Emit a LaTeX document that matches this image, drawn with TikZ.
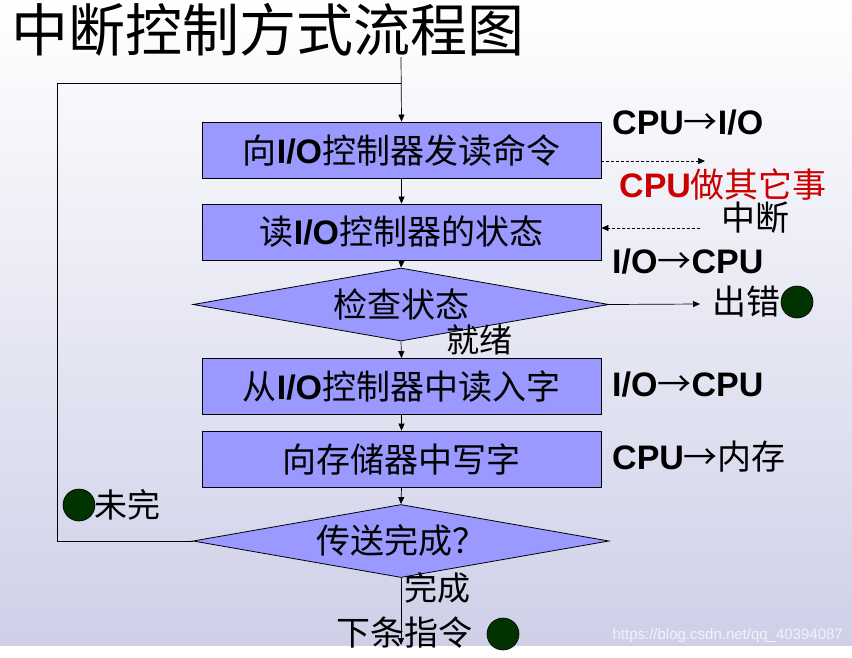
\documentclass[tikz,border=0pt]{standalone}
\usepackage{fontspec}
\setmainfont{Noto Sans CJK SC}
\newfontfamily\lat{Liberation Sans}
\usetikzlibrary{shapes.geometric,arrows.meta}
\definecolor{boxfill}{RGB}{153,153,255}
\definecolor{bgbot}{RGB}{207,208,232}
\definecolor{dotgreen}{RGB}{0,51,0}
\definecolor{redtxt}{RGB}{204,0,0}
\newcommand\io{{\lat\bfseries I/O}}
\newcommand\cpu{{\lat\bfseries CPU}}
\newcommand\arr{{\symbol{"2192}}}
\begin{document}
\begin{tikzpicture}[x=1pt,y=-1pt,
  box/.style={draw=black, line width=0.8pt, fill=boxfill, minimum width=399pt, minimum height=56pt, inner sep=0pt, font=\fontsize{34}{36}\selectfont},
  dia/.style={draw=black, line width=0.8pt, fill=boxfill, diamond, aspect=5.7, minimum width=416pt, minimum height=73pt, inner sep=0pt, font=\fontsize{34}{36}\selectfont},
  lbl/.style={inner sep=0pt, font=\fontsize{33}{35}\selectfont},
  rlbl/.style={inner sep=0pt, anchor=west, font=\fontsize{34}{36}\selectfont},
  dot/.style={circle, draw=black, line width=0.6pt, fill=dotgreen, minimum size=32pt, inner sep=0pt},
  con/.style={line width=0.7pt, -{Triangle[length=7pt,width=6pt]}},
  dcon/.style={line width=0.7pt, dashed, dash pattern=on 3pt off 2pt, -{Triangle[length=7pt,width=6pt]}}
]
\useasboundingbox (0,0) rectangle (852,657);
\fill[white] (0,0) rectangle (852,657);
\shade[top color=white, bottom color=bgbot] (0,0) rectangle (852,645);

% title
\node[inner sep=0pt, anchor=west, font=\fontsize{57}{59}\selectfont] (title) at (11,30) {中断控制方式流程图};

% boxes
\node[box] (b1) at (401.5,150) {向\io 控制器发读命令};
\node[box] (b2) at (401.5,232) {读\io 控制器的状态};
\node[dia] (d1) at (401,304.5) {检查状态};
\node[box] (b3) at (401.5,386.5) {从\io 控制器中读入字};
\node[box] (b4) at (401.5,459) {向存储器中写字};
\node[dia] (d2) at (401,541) {传送完成？};

% coordinates
\coordinate (top) at (401,57);
\coordinate (join) at (401,83);
\coordinate (lc1) at (57,83);
\coordinate (lc2) at (57,541);
\coordinate (errend) at (700,304);
\coordinate (endp) at (401,645);
\coordinate (ds1) at (705,161);
\coordinate (ds2) at (700,228);

% main flow
\draw[con] (top) -- (b1.north);
\draw[con] (b1.south) -- (b2.north);
\draw[con] (b2.south) -- (d1.north);
\draw[con] (d1.south) -- (b3.north);
\draw[con] (b3.south) -- (b4.north);
\draw[con] (b4.south) -- (d2.north);
\draw[con] (d1.east) -- (errend);
\draw[con] (d2.south) -- (endp);
\draw[line width=0.7pt] (d2.west) -- (lc2) -- (lc1) -- (join);

% dashed
\draw[dcon] (b1.east |- ds1) -- (ds1);
\draw[dcon] (ds2) -- (b2.east |- ds2);

% right labels
\node[rlbl] (l1) at (612,123) {\cpu\arr\io};
\node[rlbl, text=redtxt] (l2) at (619,185) {\cpu 做其它事};
\node[rlbl] (l3) at (721,218) {中断};
\node[rlbl] (l4) at (612,262) {\io\arr\cpu};
\node[rlbl] (l5) at (712,302) {出错};
\node[dot] (g1) at (797,302) {};
\node[rlbl] (l6) at (612,385) {\io\arr\cpu};
\node[rlbl] (l7) at (612,457) {\cpu\arr 内存};

% other labels
\node[lbl] (ready) at (479,340) {就绪};
\node[dot] (g2) at (79,505) {};
\node[lbl, anchor=west] (notyet) at (94,505) {未完};
\node[lbl] (done) at (437,588) {完成};
\node[lbl, font=\fontsize{34}{36}\selectfont] (next) at (404,633) {下条指令};
\node[dot] (g3) at (503,634) {};

% watermark
\node[inner sep=0pt, anchor=east, text={rgb,255:red,242;green,242;blue,250}, font=\lat\fontsize{15}{16}\selectfont] (wm) at (843,636) {https://blog.csdn.net/qq\_40394087};
\end{tikzpicture}
\end{document}
